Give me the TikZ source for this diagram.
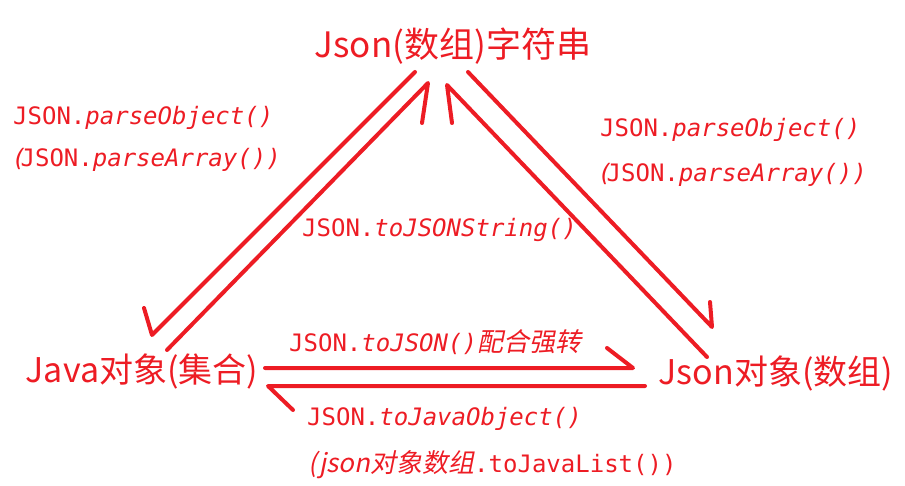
\documentclass[tikz,border=0pt]{standalone}
\usepackage{fontspec}
\setmainfont{Noto Sans CJK SC}
\setmonofont{DejaVu Sans Mono}
\newfontfamily\cjkit{Noto Sans CJK SC}[FakeSlant=0.2]
\definecolor{jred}{RGB}{237,28,36}
\newcommand{\mi}[1]{\textit{#1}}

\begin{document}
\begin{tikzpicture}[x=1pt,y=-1pt,
	main/.style={text=jred,inner sep=0pt,font=\fontsize{35}{42}\selectfont},
	lbl/.style={text=jred,inner sep=0pt,anchor=base west,font=\ttfamily\fontsize{24}{28}\selectfont},
	hand/.style={draw=jred,line width=4pt,line cap=round,line join=round}]
	\useasboundingbox (0,0) rectangle (905,486);
	\node[main] (str) at (453,46) {Json(数组)字符串};
	\node[main,font=\fontsize{34}{40}\selectfont] (java) at (142,371) {Java对象(集合)};
	\node[main,font=\fontsize{34}{40}\selectfont] (obj) at (776,373) {Json对象(数组)};
	% method labels
	\node[lbl] (parseL) at (13,125) {JSON.\mi{parseObject()}};
	\node[lbl] (arrL) at (12,167) {\mi{(}\kern-6ptJSON.\mi{parseArray())}};
	\node[lbl] (tostr) at (302,237) {JSON.\mi{toJSONString()}};
	\node[lbl] (parseR) at (600,137) {JSON.\mi{parseObject()}};
	\node[lbl] (arrR) at (598,182) {\mi{(}\kern-6ptJSON.\mi{parseArray())}};
	\node[lbl] (tojson) at (289,352) {JSON.\mi{toJSON()}{\cjkit\fontsize{26}{30}\selectfont 配合强转}};
	\node[lbl] (tojava) at (307,425) {JSON.\mi{toJavaObject()}};
	\node[lbl] (tolist) at (308,472) {{\cjkit\fontsize{26}{30}\selectfont (json对象数组}.toJavaList())};
	% arrow ends
	\coordinate (pj1) at (415,72);  \coordinate (pj2) at (152,335);
	\coordinate (js1) at (167,350); \coordinate (js2) at (428,83);
	\coordinate (po1) at (468,72);  \coordinate (po2) at (712,327);
	\coordinate (os1) at (707,357); \coordinate (os2) at (447,85);
	\coordinate (jo1) at (265,368); \coordinate (jo2) at (633,368);
	\coordinate (oj1) at (645,386); \coordinate (oj2) at (268,386);
	\foreach \a/\b/\dx/\dy in {pj1/pj2/-8/-27, js1/js2/-6/40, po1/po2/-2/-25,
		os1/os2/5/38, jo1/jo2/-26/-20, oj1/oj2/25/24}
		\draw[hand] (\a) -- (\b) -- ++(\dx,\dy);
\end{tikzpicture}
\end{document}
